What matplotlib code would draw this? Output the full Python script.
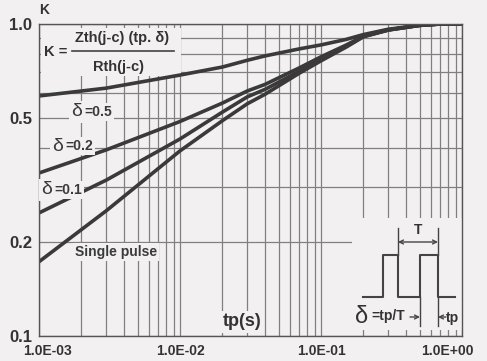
import matplotlib
matplotlib.use('Agg')
import matplotlib.pyplot as plt
import matplotlib.transforms as mtransforms
from matplotlib.patches import Rectangle
from matplotlib.ticker import NullFormatter

plt.rcParams['font.family'] = ['Liberation Sans', 'DejaVu Sans']
plt.rcParams['font.weight'] = 'bold'

# curve data
tp = [1e-3, 3e-3, 1e-2, 2e-2, 3e-2, 4e-2, 7e-2, 1e-1, 1.5e-1, 2e-1, 3e-1, 5e-1, 7e-1, 1.0]
k_d05 = [0.588, 0.623, 0.686, 0.728, 0.765, 0.790, 0.832, 0.857, 0.892, 0.925, 0.962, 0.990, 1.0, 1.0]
k_d02 = [0.333, 0.395, 0.487, 0.558, 0.610, 0.640, 0.723, 0.785, 0.855, 0.915, 0.958, 0.990, 1.0, 1.0]
k_d01 = [0.248, 0.316, 0.428, 0.522, 0.584, 0.617, 0.705, 0.772, 0.848, 0.912, 0.957, 0.990, 1.0, 1.0]
k_single = [0.173, 0.252, 0.392, 0.490, 0.555, 0.595, 0.695, 0.762, 0.842, 0.910, 0.956, 0.990, 1.0, 1.0]

x_major = [1e-3, 1e-2, 1e-1, 1e0]
x_labels = ['1.0E-03', '1.0E-02', '1.0E-01', '1.0E+00']
y_major = [0.1, 0.2, 0.5, 1.0]
y_labels = ['0.1', '0.2', '0.5', '1.0']
y_minor = [0.3, 0.4, 0.6, 0.7, 0.8, 0.9]

BG = '#f2f0f1'
GRID = '#808080'
INK = '#3a3a3a'

W, H = 487, 361
L, R, T, B = 39, 462, 24, 336   # plot area, pixels


def ax_xy(px, py):
    # pixel position -> axes fraction
    return (px - L) / (R - L), (B - py) / (B - T)


fig = plt.figure(figsize=(W / 100, H / 100), dpi=100, facecolor=BG)
ax = fig.add_axes([L / W, 1 - B / H, (R - L) / W, (B - T) / H], facecolor=BG)
ax.set_xscale('log')
ax.set_yscale('log')
ax.set_xlim(1e-3, 1.0)
ax.set_ylim(0.1, 1.0)

ax.set_xticks(x_major)
ax.set_xticklabels(x_labels)
ax.set_xticks([m * d for d in x_major[:-1] for m in range(2, 10)], minor=True)
ax.xaxis.set_minor_formatter(NullFormatter())
ax.set_yticks(y_major)
ax.set_yticklabels(y_labels)
ax.set_yticks(y_minor, minor=True)
ax.yaxis.set_minor_formatter(NullFormatter())
ax.tick_params(which='both', length=0)
ax.tick_params(axis='x', labelsize=10, pad=6, colors='#333333')
ax.tick_params(axis='y', labelsize=12, pad=5, colors='#333333')

ax.set_axisbelow(True)
ax.grid(which='both', color=GRID, lw=0.9)
for s in ax.spines.values():
    s.set_color('#555555')
    s.set_linewidth(1.0)

labs = ax.get_xticklabels()
labs[0].set_transform(labs[0].get_transform() + mtransforms.ScaledTranslation(0.08, 0, fig.dpi_scale_trans))
labs[-1].set_transform(labs[-1].get_transform() + mtransforms.ScaledTranslation(-0.15, 0, fig.dpi_scale_trans))

for k in (k_d05, k_d02, k_d01, k_single):
    ax.plot(tp, k, color=INK, lw=2.6, zorder=2, solid_capstyle='butt', solid_joinstyle='round')

box = dict(facecolor=BG, edgecolor='none', pad=1.5)

# axis names
ax.text(*ax_xy(44, 10), 'K', transform=ax.transAxes, fontsize=10, color='#333333',
        ha='center', va='center', clip_on=False)
ax.text(*ax_xy(242, 322), 'tp(s)', transform=ax.transAxes, fontsize=13, color='#333333',
        ha='center', va='center', bbox=box, zorder=3)

# formula
ax.add_patch(Rectangle(ax_xy(41, 76), 0.33, (76 - 28) / (B - T), transform=ax.transAxes,
                       facecolor=BG, edgecolor='none', zorder=1.5))
ax.text(*ax_xy(56, 52), 'K =', transform=ax.transAxes, fontsize=10.5, color='#333333',
        ha='center', va='center', zorder=3)
ax.text(*ax_xy(122, 38), 'Zth(j-c) (tp. δ)', transform=ax.transAxes, fontsize=10.5,
        color='#333333', ha='center', va='center', zorder=3)
ax.plot([ax_xy(72, 51)[0], ax_xy(174, 51)[0]], [ax_xy(72, 51)[1]] * 2,
        transform=ax.transAxes, color='#444444', lw=1.2, zorder=3)
ax.text(*ax_xy(118, 67), 'Rth(j-c)', transform=ax.transAxes, fontsize=10.5,
        color='#333333', ha='center', va='center', zorder=3)

# curve labels: big delta + value
for px, py, s in [(70, 112, '=0.5'), (51, 146, '=0.2'), (40, 190, '=0.1')]:
    ax.text(*ax_xy(px + 7, py), 'δ', transform=ax.transAxes, fontsize=14, color='#3a3a3a',
            ha='center', va='center', bbox=box, zorder=3, fontweight='normal')
    ax.text(*ax_xy(px + 14, py), s, transform=ax.transAxes, fontsize=10, color='#3a3a3a',
            ha='left', va='center', bbox=box, zorder=3)
ax.text(*ax_xy(116, 252), 'Single pulse', transform=ax.transAxes, fontsize=10,
        color='#3a3a3a', ha='center', va='center', bbox=box, zorder=3)

# pulse sketch, bottom right
ax.add_patch(Rectangle(ax_xy(352, 330), 1 - ax_xy(352, 330)[0], (330 - 218) / (B - T),
                       transform=ax.transAxes, facecolor=BG, edgecolor='none', zorder=1.5))
wave_x = [363, 383, 383, 398, 398, 420, 420, 438, 438, 455]
wave_y = [297, 297, 255, 255, 297, 297, 255, 255, 297, 297]
pts = [ax_xy(a, b) for a, b in zip(wave_x, wave_y)]
ax.plot([p[0] for p in pts], [p[1] for p in pts], transform=ax.transAxes,
        color='#444444', lw=1.5, zorder=3)
for xa, y0, y1 in [(398, 228, 255), (438, 228, 255), (420, 297, 326), (438, 297, 326)]:
    p0, p1 = ax_xy(xa, y0), ax_xy(xa, y1)
    ax.plot([p0[0], p1[0]], [p0[1], p1[1]], transform=ax.transAxes,
            color='#444444', lw=1.0, zorder=3)
ax.annotate('', xy=ax_xy(398, 242), xytext=ax_xy(438, 242), xycoords='axes fraction',
            arrowprops=dict(arrowstyle='<->', color='#444444', lw=1.0,
                            shrinkA=0, shrinkB=0, mutation_scale=7), zorder=3)
ax.text(*ax_xy(418, 230), 'T', transform=ax.transAxes, fontsize=10, color='#333333',
        ha='center', va='center', zorder=3)
ax.annotate('', xy=ax_xy(420, 317), xytext=ax_xy(410, 317), xycoords='axes fraction',
            arrowprops=dict(arrowstyle='->', color='#444444', lw=1.0,
                            shrinkA=0, shrinkB=0, mutation_scale=7), zorder=3)
ax.annotate('', xy=ax_xy(438, 317), xytext=ax_xy(446, 317), xycoords='axes fraction',
            arrowprops=dict(arrowstyle='->', color='#444444', lw=1.0,
                            shrinkA=0, shrinkB=0, mutation_scale=7), zorder=3)
ax.text(*ax_xy(446, 318), 'tp', transform=ax.transAxes, fontsize=10, color='#333333',
        ha='left', va='center', zorder=3)
ax.text(*ax_xy(362, 317), 'δ', transform=ax.transAxes, fontsize=17, color='#333333',
        ha='center', va='center', zorder=3, fontweight='normal')
ax.text(*ax_xy(371, 316), '=tp/T', transform=ax.transAxes, fontsize=10, color='#333333',
        ha='left', va='center', zorder=3)

fig.savefig('out.png', dpi=100, facecolor=BG)
